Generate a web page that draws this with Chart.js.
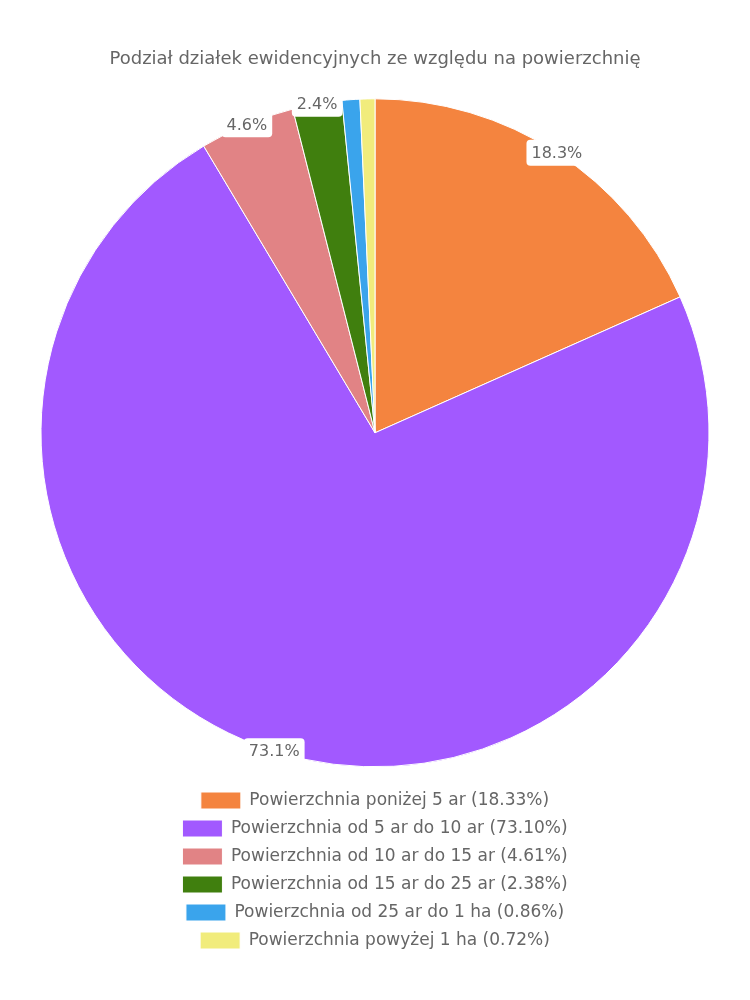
<!DOCTYPE html>
<html>
<head>
<meta charset="utf-8">
<script src="https://cdn.jsdelivr.net/npm/chart.js@4.4.0/dist/chart.umd.min.js"></script>
<style>
  html, body { margin: 0; padding: 0; background: #fff; }
  #wrap { width: 750px; height: 1000px; }
</style>
</head>
<body>
<div id="wrap"><canvas id="pie-chart"></canvas></div>
<script>
const labels = [
  'Powierzchnia poniżej 5 ar',
  'Powierzchnia od 5 ar do 10 ar',
  'Powierzchnia od 10 ar do 15 ar',
  'Powierzchnia od 15 ar do 25 ar',
  'Powierzchnia od 25 ar do 1 ha',
  'Powierzchnia powyżej 1 ha'
];
const shares = [18.33, 73.10, 4.61, 2.38, 0.86, 0.72];
const colors = ['#F4843F', '#A259FF', '#E18385', '#407F0E', '#3AA4EC', '#F1EC7C'];
const title = 'Podział działek ewidencyjnych ze względu na powierzchnię';

const FONT = "'DejaVu Sans', sans-serif";

// labels on the outer edge of each slice (small slices skipped)
const edgeLabels = {
  id: 'edgeLabels',
  afterDatasetsDraw(chart) {
    const c = chart.ctx;
    const meta = chart.getDatasetMeta(0);
    c.save();
    c.font = '16px ' + FONT;
    c.textAlign = 'center';
    c.textBaseline = 'middle';
    meta.data.forEach((arc, i) => {
      const v = shares[i];
      if (v < 2) return;
      const p = arc.getProps(['x', 'y', 'startAngle', 'endAngle', 'outerRadius'], true);
      const mid = (p.startAngle + p.endAngle) / 2;
      const x = p.x + Math.cos(mid) * p.outerRadius;
      const y = p.y + Math.sin(mid) * p.outerRadius;
      const txt = v.toFixed(1) + '%';
      const w = c.measureText(txt).width + 10;
      const h = 26;
      c.fillStyle = '#fff';
      c.beginPath();
      c.roundRect(x - w / 2, y - h / 2, w, h, 4);
      c.fill();
      c.fillStyle = '#666';
      c.fillText(txt, x, y + 1);
    });
    c.restore();
  }
};

new Chart(document.getElementById('pie-chart'), {
  type: 'pie',
  data: {
    labels: labels.map((l, i) => l + ' (' + shares[i].toFixed(2) + '%)'),
    datasets: [{
      data: shares,
      backgroundColor: colors,
      borderColor: '#fff',
      borderWidth: 1,
      radius: 334
    }]
  },
  options: {
    responsive: true,
    maintainAspectRatio: false,
    animation: false,
    layout: { padding: { top: 49, bottom: 41, left: 20, right: 20 } },
    plugins: {
      title: {
        display: true,
        text: title,
        color: '#666',
        font: { family: FONT, size: 18, weight: 'normal' },
        padding: { top: 0, bottom: 14 }
      },
      legend: {
        position: 'bottom',
        labels: {
          color: '#666',
          font: { family: FONT, size: 17 },
          boxWidth: 40,
          padding: 11
        }
      },
      tooltip: { enabled: false }
    }
  },
  plugins: [edgeLabels]
});
</script>
</body>
</html>
